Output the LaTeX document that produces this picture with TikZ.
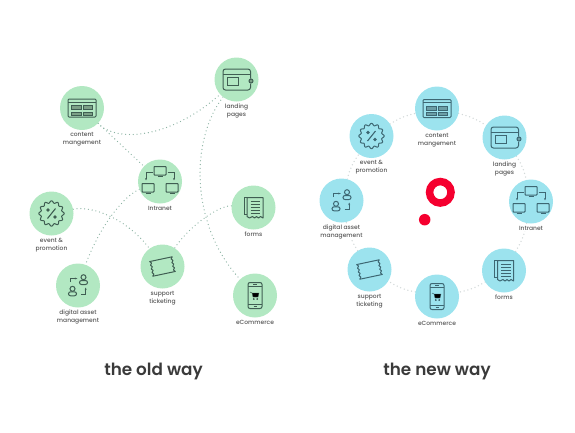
\documentclass[tikz,border=0pt]{standalone}
\usepackage{fontspec}
\setmainfont{Poppins}
\newfontfamily\waymedium{Poppins Medium}
\newfontfamily\waysemi{Poppins SemiBold}
\usetikzlibrary{arrows.meta, positioning, backgrounds}
\definecolor{wayoldfill}{HTML}{B2E8C2}
\definecolor{wayoldink}{HTML}{3F5E52}
\definecolor{wayolddots}{HTML}{8CB3A3}
\definecolor{waynewfill}{HTML}{9CE3EE}
\definecolor{waynewink}{HTML}{3D6773}
\definecolor{waynewdots}{HTML}{D3D9D9}
\definecolor{waycaption}{HTML}{595959}
\definecolor{waytitle}{HTML}{3A3A3A}
\definecolor{wayred}{HTML}{F5002F}
\tikzset{
  pics/pagesicon/.style={code={
    \draw[pic actions, rounded corners=1pt] (-14,-9) rectangle (14,9);
    \draw[pic actions] (-14,-6) -- (14,-6);
    \draw[pic actions, fill=black, fill opacity=.3, line width=.5pt] (-10.5,-2.5) rectangle (-1,1.5);
    \draw[pic actions, fill=black, fill opacity=.3, line width=.5pt] (1,-2.5) rectangle (10.5,1.5);
    \draw[pic actions, fill=black, fill opacity=.3, line width=.5pt] (-10.5,4) rectangle (-1,7);
    \draw[pic actions, fill=black, fill opacity=.3, line width=.5pt] (1,4) rectangle (10.5,7);
  }},
  pics/walleticon/.style={code={
    \draw[pic actions, rounded corners=2.5pt] (14,-1) -- (14,-10.5) -- (-13.5,-10.5) -- (-13.5,10.5) -- (14,10.5) -- (14,4);
    \draw[pic actions] (-13.5,-5) -- (14,-5);
    \draw[pic actions] (-9.5,-2) rectangle (2,6);
    \draw[pic actions, fill=black, fill opacity=.3] (14.5,1.5) circle (2);
  }},
  pics/networkicon/.style={code={
    \draw[pic actions, rounded corners=.6pt] (-6,-15) rectangle (6,-6.5);
    \draw[pic actions] (-2.5,-5) -- (2.5,-5);
    \draw[pic actions, rounded corners=.6pt] (-18,2) rectangle (-6,10.5);
    \draw[pic actions] (-14.5,12) -- (-9.5,12);
    \draw[pic actions, rounded corners=.6pt] (6,2) rectangle (18,10.5);
    \draw[pic actions] (9.5,12) -- (14.5,12);
    \draw[pic actions, -{Stealth[length=2.5pt]}] (-7.5,-9) -- (-14,-9) -- (-14,-1);
    \draw[pic actions, -{Stealth[length=2.5pt]}] (7.5,-9) -- (14,-9) -- (14,-1);
  }},
  pics/badgeicon/.style={code={
    \draw[pic actions] plot[smooth cycle, domain=0:356, samples=90] ({(11.6+1.1*cos(12*\x))*cos(\x)}, {(11.6+1.1*cos(12*\x))*sin(\x)});
    \draw[pic actions, line width=1.1pt] (-4,5) -- (4,-5);
    \draw[pic actions, line width=1.1pt] (-3.5,-3.5) circle (1.2);
    \draw[pic actions, line width=1.1pt] (3.5,3.5) circle (1.2);
  }},
  pics/assetsicon/.style={code={
    \draw[pic actions] (5.5,-8.3) circle (2.5);
    \draw[pic actions, rounded corners=2pt] (1.5,-1) rectangle (9.5,-5);
    \draw[pic actions] (-5.5,3.3) circle (2.5);
    \draw[pic actions, rounded corners=2pt] (-9.5,10.3) rectangle (-1.5,6.3);
    \draw[pic actions, -{Stealth[length=2.5pt]}] (-8,-3.5) -- (-8,-7) -- (-0.7,-7);
    \draw[pic actions, -{Stealth[length=2.5pt]}] (3,8.7) -- (7.7,8.7) -- (7.7,2);
  }},
  pics/ticketicon/.style={code={
    \begin{scope}[rotate=12]
      \draw[pic actions, line join=round] (-11.5,-7.5) -- (11.5,-7.5) -- (10,-5.6) -- (11.5,-3.7) -- (10,-1.9) -- (11.5,0) -- (10,1.9) -- (11.5,3.7) -- (10,5.6) -- (11.5,7.5) -- (-11.5,7.5) -- (-10,5.6) -- (-11.5,3.7) -- (-10,1.9) -- (-11.5,0) -- (-10,-1.9) -- (-11.5,-3.7) -- (-10,-5.6) -- cycle;
    \end{scope}
  }},
  pics/formicon/.style={code={
    \draw[pic actions, line join=round] (-6.5,-10) -- (9.5,-10) -- (9.5,10.5) -- (7,9) -- (5,10.5) -- (3,9) -- (1,10.5) -- (-1,9) -- (-4,10.5) -- (-6.5,9) -- cycle;
    \draw[pic actions] (-6.5,-10) -- (-9.5,-10) -- (-9.5,7) -- (-6.5,7);
    \draw[pic actions, line width=.6pt] (-3,-6.5) -- (6.5,-6.5) (-3,-3.5) -- (6.5,-3.5) (-3,-.5) -- (6.5,-.5) (-3,2.5) -- (6.5,2.5) (-3,5.5) -- (6.5,5.5);
  }},
  pics/phoneicon/.style={code={
    \draw[pic actions, rounded corners=2pt] (-7,-13) rectangle (7,13);
    \draw[pic actions] (-7,-9) -- (7,-9) (-7,9) -- (7,9);
    \draw[pic actions, line width=.6pt] (-2,-11) -- (2,-11) (-1.5,11) -- (1.5,11);
    \draw[pic actions, fill=black, line width=.3pt] (-3,-2.5) -- (4,-2.5) -- (3,1.5) -- (-2,1.5) -- cycle;
    \draw[pic actions, line width=.5pt] (-5,-3.5) -- (-3,-2.5);
    \draw[pic actions, fill=black, line width=.3pt] (-1.2,3.5) circle (.7) (2.2,3.5) circle (.7);
  }}
}
\begin{document}
\begin{tikzpicture}[
  x=1pt, y=-1pt,
  oldbubble/.style={circle, fill=wayoldfill, minimum size=44pt, inner sep=0pt},
  newbubble/.style={circle, fill=waynewfill, minimum size=44pt, inner sep=0pt},
  oldink/.style={draw=wayoldink, line width=1pt},
  newink/.style={draw=waynewink, line width=1pt},
  caption/.style={font=\fontsize{6}{8}\waymedium, text=waycaption, align=center, fill=white, inner sep=1pt},
  waytitlestyle/.style={font=\fontsize{16.8}{18}\waysemi, text=waytitle},
  olddots/.style={draw=wayolddots, line width=1.3pt, line cap=round, dash pattern=on 0pt off 3.8pt},
  newdots/.style={draw=waynewdots, line width=1.5pt, line cap=round, dash pattern=on 0pt off 3.8pt}
]
\useasboundingbox (0,0) rectangle (575,432);

% old way
\node[oldbubble] (oldpages) at (82,108) {};
\node[oldbubble] (oldland) at (236.5,79.5) {};
\node[oldbubble] (oldnet) at (160,181.5) {};
\node[oldbubble] (oldpromo) at (51.5,213.5) {};
\node[oldbubble] (oldasset) at (78,285.5) {};
\node[oldbubble] (oldticket) at (162.5,266.5) {};
\node[oldbubble] (oldforms) at (253.5,207.5) {};
\node[oldbubble] (oldshop) at (255,295.5) {};

\node[caption, below=1pt of oldpages] (oldpagestxt) {content\\mangement};
\node[caption, below=1pt of oldland] (oldlandtxt) {landing\\pages};
\node[caption, below=1pt of oldnet] (oldnettxt) {Intranet};
\node[caption, below=1pt of oldpromo] (oldpromotxt) {event \&\\promotion};
\node[caption, below=1pt of oldasset] (oldassettxt) {digital asset\\management};
\node[caption, below=1pt of oldticket] (oldtickettxt) {support\\ticketing};
\node[caption, below=1pt of oldforms] (oldformstxt) {forms};
\node[caption, below=1pt of oldshop] (oldshoptxt) {eCommerce};

\pic[oldink] at (oldpages) {pagesicon};
\pic[oldink] at (oldland) {walleticon};
\pic[oldink] at (oldnet) {networkicon};
\pic[oldink] at (oldpromo) {badgeicon};
\pic[oldink] at (oldasset) {assetsicon};
\pic[oldink] at (oldticket) {ticketicon};
\pic[oldink] at (oldforms) {formicon};
\pic[oldink] at (oldshop) {phoneicon};

\begin{scope}[on background layer]
\draw[olddots] (oldpages) .. controls (120,145) and (175,135) .. (oldland);
\draw[olddots] (oldpages) -- (oldnet);
\draw[olddots] (oldland) .. controls (190,140) and (190,225) .. (oldshop);
\draw[olddots] (oldnet) .. controls (125,195) and (100,225) .. (oldasset);
\draw[olddots] (oldpromo) .. controls (95,205) and (130,222) .. (oldticket);
\draw[olddots] (oldforms) .. controls (220,205) and (190,225) .. (oldticket);
\end{scope}

\node[waytitlestyle] (oldtitle) at (153.5,371) {the old way};

% new way
\node[newbubble] (newpages) at (437,108.5) {};
\node[newbubble] (newpromo) at (371.5,136) {};
\node[newbubble] (newland) at (504.5,137.5) {};
\node[newbubble] (newasset) at (341.5,200.5) {};
\node[newbubble] (newnet) at (531,201.5) {};
\node[newbubble] (newticket) at (369.5,269.5) {};
\node[newbubble] (newforms) at (504,270.5) {};
\node[newbubble] (newshop) at (437,296.5) {};

\node[caption, below=1pt of newpages] (newpagestxt) {content\\mangement};
\node[caption, below=1pt of newpromo] (newpromotxt) {event \&\\promotion};
\node[caption, below=1pt of newland] (newlandtxt) {landing\\pages};
\node[caption, below=1pt of newasset] (newassettxt) {digital asset\\management};
\node[caption, below=1pt of newnet] (newnettxt) {Intranet};
\node[caption, below=1pt of newticket] (newtickettxt) {support\\ticketing};
\node[caption, below=1pt of newforms] (newformstxt) {forms};
\node[caption, below=1pt of newshop] (newshoptxt) {eCommerce};

\pic[newink] at (newpages) {pagesicon};
\pic[newink] at (newpromo) {badgeicon};
\pic[newink] at (newland) {walleticon};
\pic[newink] at (newasset) {assetsicon};
\pic[newink] at (newnet) {networkicon};
\pic[newink] at (newticket) {ticketicon};
\pic[newink] at (newforms) {formicon};
\pic[newink] at (newshop) {phoneicon};

\begin{scope}[on background layer]
\draw[newdots] (newpages) to[bend left=10] (newland);
\draw[newdots] (newland) to[bend left=10] (newnet);
\draw[newdots] (newnet) to[bend left=10] (newforms);
\draw[newdots] (newforms) to[bend left=10] (newshop);
\draw[newdots] (newshop) to[bend left=10] (newticket);
\draw[newdots] (newticket) to[bend left=10] (newasset);
\draw[newdots] (newasset) to[bend left=10] (newpromo);
\draw[newdots] (newpromo) to[bend left=10] (newpages);
\end{scope}

\node[circle, draw=wayred, line width=7.5pt, minimum size=21.5pt, inner sep=0pt] (logoring) at (440.3,192.3) {};
\node[circle, fill=wayred, minimum size=11.5pt, inner sep=0pt] (logodot) at (424.7,219.7) {};

\node[waytitlestyle] (newtitle) at (437,371) {the new way};
\end{tikzpicture}
\end{document}
